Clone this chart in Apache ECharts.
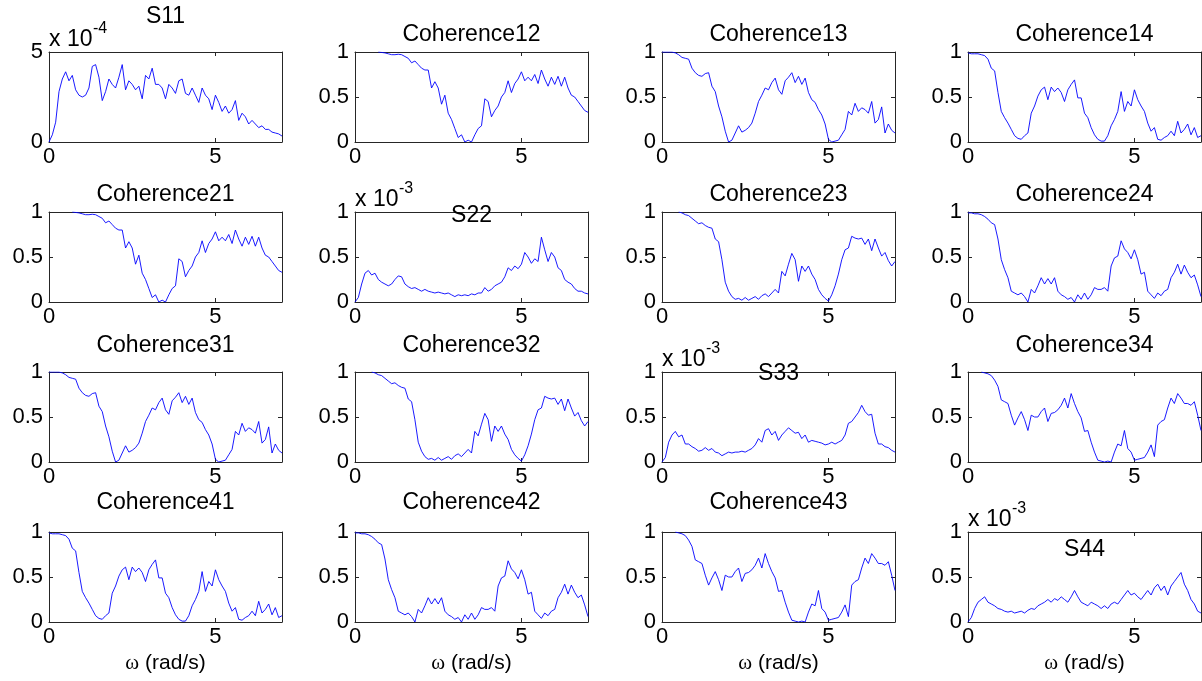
<!DOCTYPE html>
<html><head><meta charset="utf-8">
<script src="https://cdn.jsdelivr.net/npm/echarts@6/dist/echarts.min.js"></script>
<style>html,body{margin:0;padding:0;background:#fff}#c{width:1202px;height:681px}</style>
</head><body><div id="c"></div>
<script>
// ---- data (spectra in display units: S11 x1e-4, S22/S33/S44 x1e-3) ----
const OMEGA_STEP = 0.1; // samples at 0,0.1,...,7 rad/s
const S11 = [0, 0.4, 1.1, 2.8, 3.5, 3.9, 3.4, 3.7, 2.9, 2.6,
 2.5, 2.6, 3.0, 4.2, 4.3, 3.6, 2.3, 2.8, 3.5, 3.2,
 3.0, 3.6, 4.3, 2.9, 3.4, 3.2, 2.9, 3.1, 2.4, 3.7,
 3.5, 4.1, 3.2, 3.2, 3.0, 2.4, 3.2, 3.0, 2.7, 3.4,
 3.5, 2.7, 2.6, 3.0, 2.6, 2.2, 3.0, 2.6, 2.4, 1.8,
 2.6, 2.2, 1.7, 2.0, 1.6, 1.8, 2.3, 1.2, 1.6, 1.4,
 1.0, 1.2, 1.0, 0.8, 0.9, 0.7, 0.7, 0.55, 0.5, 0.45,
 0.33];
const S22 = [0.0, 0.05, 0.2, 0.32, 0.35, 0.3, 0.32, 0.25, 0.22, 0.2,
 0.18, 0.2, 0.25, 0.29, 0.28, 0.2, 0.17, 0.15, 0.16, 0.14,
 0.12, 0.14, 0.12, 0.11, 0.1, 0.11, 0.1, 0.09, 0.1, 0.08,
 0.06, 0.08, 0.07, 0.08, 0.07, 0.09, 0.08, 0.1, 0.1, 0.16,
 0.12, 0.14, 0.18, 0.2, 0.22, 0.28, 0.38, 0.35, 0.4, 0.37,
 0.42, 0.55, 0.5, 0.43, 0.48, 0.45, 0.72, 0.58, 0.45, 0.55,
 0.5, 0.38, 0.35, 0.25, 0.22, 0.2, 0.15, 0.12, 0.12, 0.1,
 0.09];
const S33 = [0.0, 0.05, 0.22, 0.3, 0.34, 0.28, 0.3, 0.2, 0.2, 0.17,
 0.15, 0.12, 0.13, 0.16, 0.13, 0.15, 0.11, 0.1, 0.07, 0.09,
 0.11, 0.1, 0.11, 0.11, 0.12, 0.11, 0.13, 0.15, 0.19, 0.26,
 0.22, 0.35, 0.37, 0.3, 0.34, 0.24, 0.3, 0.34, 0.38, 0.35,
 0.32, 0.33, 0.26, 0.3, 0.22, 0.24, 0.23, 0.22, 0.21, 0.19,
 0.2, 0.22, 0.2, 0.22, 0.24, 0.3, 0.43, 0.45, 0.5, 0.55,
 0.63, 0.56, 0.52, 0.53, 0.32, 0.2, 0.2, 0.17, 0.16, 0.13,
 0.11];
const S44 = [0.0, 0.05, 0.15, 0.22, 0.25, 0.28, 0.22, 0.2, 0.18, 0.15,
 0.14, 0.12, 0.11, 0.12, 0.1, 0.11, 0.12, 0.1, 0.13, 0.15,
 0.14, 0.18, 0.2, 0.22, 0.25, 0.22, 0.26, 0.24, 0.28, 0.25,
 0.22, 0.28, 0.35, 0.28, 0.22, 0.2, 0.18, 0.22, 0.2, 0.18,
 0.15, 0.18, 0.15, 0.2, 0.22, 0.2, 0.25, 0.3, 0.35, 0.3,
 0.32, 0.28, 0.25, 0.3, 0.35, 0.3, 0.38, 0.42, 0.35, 0.4,
 0.3, 0.4, 0.45, 0.5, 0.55, 0.42, 0.35, 0.25, 0.2, 0.12,
 0.1];
const COH12 = [null, null, null, null, null, null, null, 1.0, 0.995, 0.99,
 0.98, 0.97, 0.97, 0.975, 0.97, 0.95, 0.93, 0.88, 0.9, 0.86,
 0.82, 0.8, 0.8, 0.6, 0.67, 0.6, 0.42, 0.52, 0.32, 0.25,
 0.15, 0.05, 0.08, 0.0, 0.02, 0.0, 0.08, 0.15, 0.18, 0.48,
 0.45, 0.28, 0.35, 0.4, 0.5, 0.55, 0.68, 0.55, 0.65, 0.7,
 0.78, 0.68, 0.72, 0.68, 0.75, 0.65, 0.8, 0.7, 0.62, 0.72,
 0.64, 0.73, 0.62, 0.72, 0.6, 0.52, 0.5, 0.45, 0.4, 0.35,
 0.33];
const COH13 = [1.0, 1.0, 1.0, 1.0, 0.99, 0.97, 0.94, 0.93, 0.92, 0.82,
 0.77, 0.74, 0.73, 0.76, 0.77, 0.62, 0.56, 0.4, 0.28, 0.12,
 0.0, 0.02, 0.1, 0.18, 0.11, 0.13, 0.16, 0.21, 0.32, 0.45,
 0.52, 0.6, 0.58, 0.66, 0.71, 0.58, 0.53, 0.68, 0.72, 0.77,
 0.66, 0.73, 0.64, 0.71, 0.55, 0.47, 0.44, 0.36, 0.3, 0.2,
 0.03, 0.0, 0.01, 0.02, 0.08, 0.14, 0.34, 0.3, 0.43, 0.34,
 0.38, 0.36, 0.32, 0.45, 0.21, 0.25, 0.39, 0.1, 0.2, 0.13,
 0.1];
const COH14 = [0.99, 0.98, 0.98, 0.98, 0.97, 0.96, 0.92, 0.82, 0.79, 0.55,
 0.34, 0.27, 0.21, 0.14, 0.07, 0.04, 0.03, 0.07, 0.1, 0.32,
 0.4, 0.51, 0.58, 0.61, 0.47, 0.61, 0.56, 0.6, 0.55, 0.45,
 0.58, 0.64, 0.69, 0.49, 0.49, 0.32, 0.27, 0.16, 0.08, 0.03,
 0.01, 0.01, 0.07, 0.18, 0.25, 0.34, 0.56, 0.34, 0.45, 0.4,
 0.58, 0.47, 0.4, 0.34, 0.21, 0.12, 0.16, 0.03, 0.02, 0.05,
 0.07, 0.12, 0.07, 0.23, 0.1, 0.14, 0.2, 0.08, 0.16, 0.05,
 0.07];
const COH23 = [null, null, null, null, null, 1.0, 0.99, 0.97, 0.96, 0.93,
 0.9, 0.87, 0.88, 0.85, 0.83, 0.82, 0.7, 0.67, 0.47, 0.22,
 0.12, 0.06, 0.03, 0.04, 0.02, 0.05, 0.02, 0.04, 0.06, 0.03,
 0.07, 0.09, 0.06, 0.1, 0.14, 0.1, 0.34, 0.29, 0.42, 0.54,
 0.47, 0.23, 0.4, 0.34, 0.4, 0.31, 0.25, 0.14, 0.08, 0.04,
 0.01, 0.08, 0.18, 0.31, 0.47, 0.58, 0.6, 0.73, 0.71, 0.7,
 0.71, 0.64, 0.7, 0.57, 0.7, 0.6, 0.51, 0.55, 0.46, 0.4,
 0.45];
const COH24 = [0.99, 0.99, 0.98, 0.98, 0.97, 0.95, 0.92, 0.88, 0.86, 0.7,
 0.47, 0.36, 0.27, 0.12, 0.1, 0.08, 0.1, 0.06, 0.0, 0.14,
 0.1, 0.18, 0.27, 0.2, 0.26, 0.2, 0.27, 0.12, 0.08, 0.06,
 0.03, 0.05, 0.0, 0.08, 0.03, 0.1, 0.03, 0.08, 0.16, 0.14,
 0.14, 0.16, 0.12, 0.4, 0.49, 0.51, 0.68, 0.59, 0.55, 0.48,
 0.58, 0.47, 0.31, 0.33, 0.12, 0.08, 0.04, 0.1, 0.07, 0.12,
 0.14, 0.27, 0.33, 0.42, 0.31, 0.41, 0.33, 0.27, 0.3, 0.19,
 0.06];
const COH34 = [null, null, null, null, 1.0, 0.99, 0.98, 0.96, 0.91, 0.84,
 0.69, 0.67, 0.65, 0.52, 0.41, 0.49, 0.56, 0.47, 0.35, 0.52,
 0.5, 0.5, 0.56, 0.6, 0.45, 0.54, 0.55, 0.58, 0.63, 0.71,
 0.6, 0.76, 0.65, 0.56, 0.49, 0.34, 0.35, 0.22, 0.11, 0.02,
 0.01, 0.0, 0.01, 0.0, 0.11, 0.2, 0.18, 0.35, 0.15, 0.11,
 0.02, 0.03, 0.04, 0.05, 0.11, 0.19, 0.06, 0.41, 0.45, 0.47,
 0.6, 0.71, 0.65, 0.76, 0.71, 0.65, 0.65, 0.63, 0.67, 0.52,
 0.35];

const TITLES = ['S11','Coherence12','Coherence13','Coherence14',
                'Coherence21','S22','Coherence23','Coherence24',
                'Coherence31','Coherence32','S33','Coherence34',
                'Coherence41','Coherence42','Coherence43','S44'];
const PANEL_DATA = [S11, COH12, COH13, COH14,
                    COH12, S22, COH23, COH24,
                    COH13, COH23, S33, COH34,
                    COH14, COH24, COH34, S44];
const EXPONENTS = {0:'-4', 5:'-3', 10:'-3', 15:'-3'};
const X_LABEL = 'ω (rad/s)';

// ---- layout ----
const FONT = 'Liberation Sans';
const LEFTS = [49, 355, 662, 968], TOPS = [52, 212, 372, 532], W = 233, H = 90;
const COH_TITLE_Y = [35, 195, 346, 503];
const S_TITLE_Y = {0:17, 5:216, 10:374, 15:550};
const EXP_Y = {0:40, 5:200, 10:360, 15:520};
const TICK_FS = 22, TITLE_FS = 23;
const AX = '#262626';

const meas = document.createElement('canvas').getContext('2d');
function textW(t, fs){ meas.font = fs + 'px "' + FONT + '"'; return meas.measureText(t).width; }
function txt(x, y, text, fs, align, family){
  return {type:'text', x:x, y:y, silent:true, z:100,
    style:{text:text, fontSize:fs, fontFamily:family||FONT, fill:'#000',
      align:align||'center', verticalAlign:'middle', textAlign:align||'center', textVerticalAlign:'middle'}};
}
function pairs(arr){ const out=[]; arr.forEach((v,k)=>{ if(v!==null) out.push([+(k*OMEGA_STEP).toFixed(2), v]); }); return out; }

const grids=[], xAxes=[], yAxes=[], series=[], graphics=[];
PANEL_DATA.forEach((arr, i) => {
  const r = Math.floor(i/4), c = i%4;
  const isS = (i in EXPONENTS);
  const ymax = (i===0) ? 5 : 1, yint = (i===0) ? 5 : 0.5;
  grids.push({left:LEFTS[c], top:TOPS[r], width:W, height:H, containLabel:false, outerBoundsMode:'none'});
  const line = {show:true, onZero:false, lineStyle:{color:AX, width:1}};
  const tick = {show:true, inside:true, length:4, lineStyle:{color:AX, width:1}};
  const lab = {color:'#000', fontSize:TICK_FS, fontFamily:FONT};
  xAxes.push({type:'value', gridIndex:i, min:0, max:7, interval:5, axisLine:line, axisTick:tick,
    splitLine:{show:false}, axisLabel:Object.assign({margin:4, showMaxLabel:false, formatter:v=>(v===7?'':String(v))}, lab)});
  xAxes.push({type:'value', gridIndex:i, position:'top', min:0, max:7, interval:5, axisLine:line, axisTick:tick,
    splitLine:{show:false}, axisLabel:{show:false}});
  yAxes.push({type:'value', gridIndex:i, min:0, max:ymax, interval:yint, axisLine:line, axisTick:tick,
    splitLine:{show:false}, axisLabel:Object.assign({margin:6}, lab)});
  yAxes.push({type:'value', gridIndex:i, position:'right', min:0, max:ymax, interval:yint, axisLine:line, axisTick:tick,
    splitLine:{show:false}, axisLabel:{show:false}});
  series.push({type:'line', xAxisIndex:2*i, yAxisIndex:2*i, data:pairs(arr), symbol:'none', showSymbol:false,
    lineStyle:{color:'#0000ff', width:0.9}, silent:true, animation:false, z:3});
  const cx = LEFTS[c] + W/2;
  if (isS) {
    graphics.push(txt(cx, S_TITLE_Y[i], TITLES[i], TITLE_FS));
    const base = 'x 10';
    graphics.push(txt(LEFTS[c], EXP_Y[i], base, TITLE_FS, 'left'));
    graphics.push(txt(LEFTS[c] + textW(base, TITLE_FS) + 0.5, EXP_Y[i] - 11, EXPONENTS[i], 16, 'left'));
  } else {
    graphics.push(txt(cx, COH_TITLE_Y[r], TITLES[i], TITLE_FS));
  }
  if (r === 3) {
    graphics.push({type:'text', x:cx, y:663, silent:true, z:100,
      style:{text:'{w|ω} (rad/s)', fill:'#000', fontSize:21, fontFamily:FONT,
        align:'center', verticalAlign:'middle', textAlign:'center', textVerticalAlign:'middle',
        rich:{w:{fontSize:21, fontFamily:'Liberation Serif', fill:'#000'}}}});
  }
});

const chart = echarts.init(document.getElementById('c'), null, {renderer:'canvas'});
chart.setOption({
  animation:false, backgroundColor:'#fff',
  grid:grids, xAxis:xAxes, yAxis:yAxes, series:series,
  graphic:{elements:graphics}
});
</script></body></html>
